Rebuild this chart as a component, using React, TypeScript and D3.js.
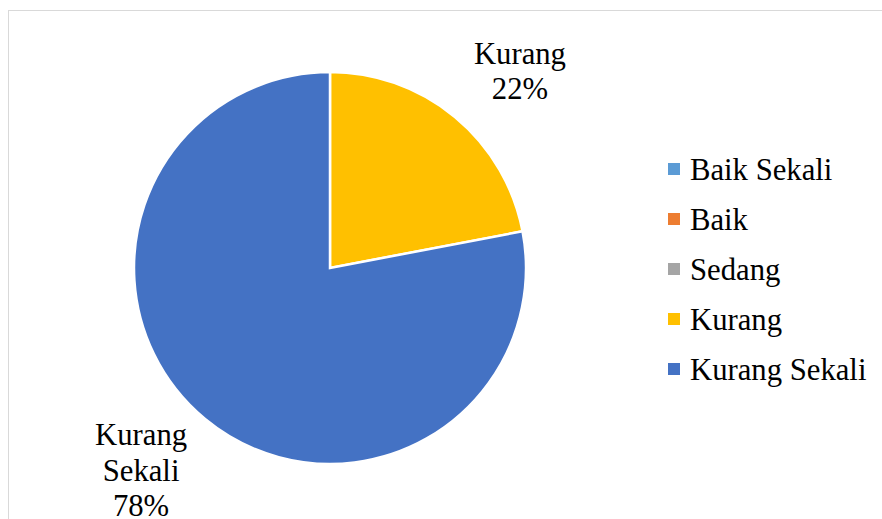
import React from "react";
import * as d3 from "d3";

const categories = ["Baik Sekali", "Baik", "Sedang", "Kurang", "Kurang Sekali"];
const values = [0, 0, 0, 22, 78];
const colors = ["#5B9BD5", "#ED7D31", "#A5A5A5", "#FFC000", "#4472C4"];

const W = 882;
const H = 519;
const CX = 330;
const CY = 268;
const R = 196;
const FS = 30.7;
const FONT = "Liberation Serif, Times New Roman, Tinos, DejaVu Serif, serif";

export default function App() {
  const data = categories.map((c, i) => ({ c, v: values[i], color: colors[i] }));
  const pie = d3.pie<any>().sort(null).value((d) => d.v);
  const arcs = pie(data);
  const arc = d3.arc<any>().innerRadius(0).outerRadius(R);
  const total = d3.sum(values);

  const labelFor = (a: any) => {
    const mid = (a.startAngle + a.endAngle) / 2;
    const name = a.data.c;
    const pct = Math.round((a.data.v / total) * 100) + "%";
    const px = Math.sin(mid) * R;
    const py = -Math.cos(mid) * R;
    let x: number, y: number, lines: string[];
    if (name === "Kurang") {
      x = CX + px + 65;
      y = CY + py - 53;
      lines = ["Kurang", pct];
    } else {
      x = CX + px - 64;
      y = CY + py + 26;
      lines = ["Kurang", "Sekali", pct];
    }
    return { x, y, lines };
  };

  return (
    <svg
      width={W}
      height={H}
      style={{ position: "absolute", left: 0, top: 0, background: "#fff" }}
    >
      <rect x={8.5} y={10.5} width={W + 20} height={H + 20} fill="#fff" stroke="#d9d9d9" strokeWidth={1} />
      <g transform={`translate(${CX},${CY})`}>
        {arcs.map((a, i) =>
          a.data.v > 0 ? (
            <path key={i} d={arc(a) as string} fill={a.data.color} stroke="#fff" strokeWidth={2.5} strokeLinejoin="miter" />
          ) : null
        )}
      </g>
      {arcs
        .filter((a) => a.data.v > 0)
        .map((a, i) => {
          const l = labelFor(a);
          return (
            <text key={i} x={l.x} y={l.y} textAnchor="middle" fontFamily={FONT} fontSize={FS} fill="#000">
              {l.lines.map((t, j) => (
                <tspan key={j} x={l.x} dy={j === 0 ? 0 : 35.5}>
                  {t}
                </tspan>
              ))}
            </text>
          );
        })}
      <g>
        {categories.map((c, i) => (
          <g key={c} transform={`translate(668,${163 + i * 50})`}>
            <rect x={0} y={0} width={12} height={12} fill={colors[i]} />
            <text x={22} y={16.5} fontFamily={FONT} fontSize={FS} fill="#000">
              {c}
            </text>
          </g>
        ))}
      </g>
    </svg>
  );
}
